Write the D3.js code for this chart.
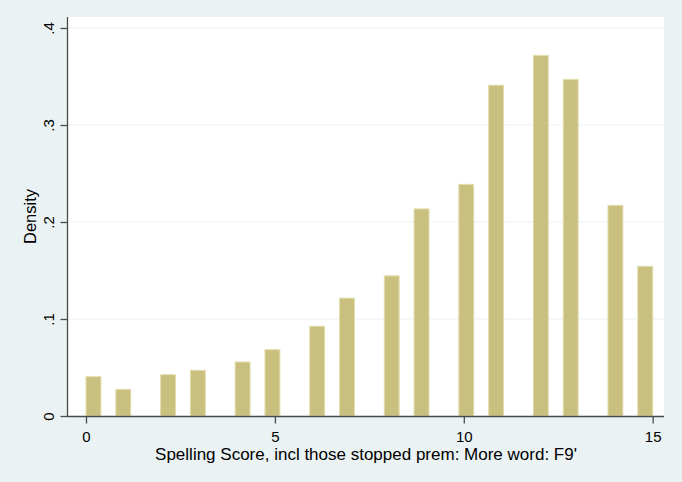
<!DOCTYPE html>
<html>
<head>
<meta charset="utf-8">
<script src="https://cdn.jsdelivr.net/npm/d3@7/dist/d3.min.js"></script>
<style>
html,body{margin:0;padding:0;background:#EAF2F3;}
svg{display:block;font-family:"Liberation Sans",Arial,sans-serif;}
</style>
</head>
<body>
<script>
// Data: spelling score (discrete values) and histogram density
const scores = [0,1,2,3,4,5,6,7,8,9,10,11,12,13,14,15];
const densities = [0.0405,0.0275,0.0426,0.0471,0.0557,0.0684,0.0925,0.1215,0.1445,0.2135,0.2388,0.3410,0.3718,0.3470,0.2172,0.1543];
const binCount = 38; // histogram bins over the score range
const xTicks = [0,5,10,15];
const yTicks = [0,0.1,0.2,0.3,0.4];
const yTickLabels = ["0",".1",".2",".3",".4"];
const xTitle = "Spelling Score, incl those stopped prem: More word: F9'";
const yTitle = "Density";

const W = 682, H = 482;
const plot = {left: 68, right: 664, top: 17, bottom: 416};

const svg = d3.select("body").append("svg").attr("width", W).attr("height", H);
svg.append("rect").attr("width", W).attr("height", H).attr("fill", "#EAF2F3");
svg.append("rect").attr("x", plot.left).attr("y", plot.top)
  .attr("width", plot.right - plot.left).attr("height", plot.bottom - plot.top)
  .attr("fill", "#ffffff");

const xMin = d3.min(scores), xMax = d3.max(scores);
const x = d3.scaleLinear().domain([xMin, xMax]).range([86, 652.7]);
const y = d3.scaleLinear().domain([0, 0.4]).range([plot.bottom, 28]);
const binW = (xMax - xMin) / binCount;
const binOf = v => Math.min(binCount - 1, Math.floor((v - xMin) / binW + 1e-9));

// gridlines
svg.append("g").selectAll("line").data(yTicks.filter(t => t > 0)).join("line")
  .attr("x1", plot.left).attr("x2", plot.right)
  .attr("y1", d => y(d)).attr("y2", d => y(d))
  .attr("stroke", "#EAF2F3").attr("stroke-width", 1);

// bars
svg.append("g").selectAll("rect").data(scores.map((s, i) => ({s, d: densities[i]}))).join("rect")
  .attr("x", d => x(xMin + binOf(d.s) * binW))
  .attr("width", d => x(xMin + (binOf(d.s) + 1) * binW) - x(xMin + binOf(d.s) * binW))
  .attr("y", d => y(d.d))
  .attr("height", d => y(0) - y(d.d))
  .attr("fill", "#C9C07F")
  .attr("stroke", "#E3DDAE").attr("stroke-width", 1);

// axes
const axisColor = "#4a4a4a";
const xAxis = svg.append("g").attr("transform", `translate(0,${plot.bottom + 0.5})`)
  .call(d3.axisBottom(x).tickValues(xTicks).tickFormat(d3.format("d")).tickSize(7).tickPadding(5));
xAxis.select(".domain").attr("d", `M${plot.left},0H${plot.right}`);
const yAxis = svg.append("g").attr("transform", `translate(${plot.left - 0.5},0)`)
  .call(d3.axisLeft(y).tickValues(yTicks).tickFormat((d, i) => yTickLabels[i]).tickSize(7).tickPadding(5));
yAxis.select(".domain").attr("d", `M0,${plot.top}V${plot.bottom + 1}`);
[xAxis, yAxis].forEach(a => {
  a.select(".domain").attr("stroke", axisColor).attr("stroke-width", 1.3);
  a.selectAll(".tick line").attr("stroke", axisColor).attr("stroke-width", 1.3);
  a.selectAll("text").attr("fill", "#000").style("font-size", "15px")
    .style("font-family", "'Liberation Sans', Arial, sans-serif");
});
xAxis.selectAll("text").attr("dy", "0.9em");
yAxis.selectAll(".tick text")
  .attr("x", null).attr("dy", null)
  .attr("text-anchor", "middle")
  .attr("transform", "translate(-18.5,0) rotate(-90)")
  .attr("y", 0).attr("dy", "0.35em");

// titles
svg.append("text").attr("x", (plot.left + plot.right) / 2).attr("y", 460)
  .attr("text-anchor", "middle").style("font-size", "17px").attr("fill", "#000").text(xTitle);
svg.append("text").attr("transform", `translate(36,${(plot.top + plot.bottom) / 2}) rotate(-90)`)
  .attr("text-anchor", "middle").style("font-size", "16.5px").attr("fill", "#000").text(yTitle);
</script>
</body>
</html>
